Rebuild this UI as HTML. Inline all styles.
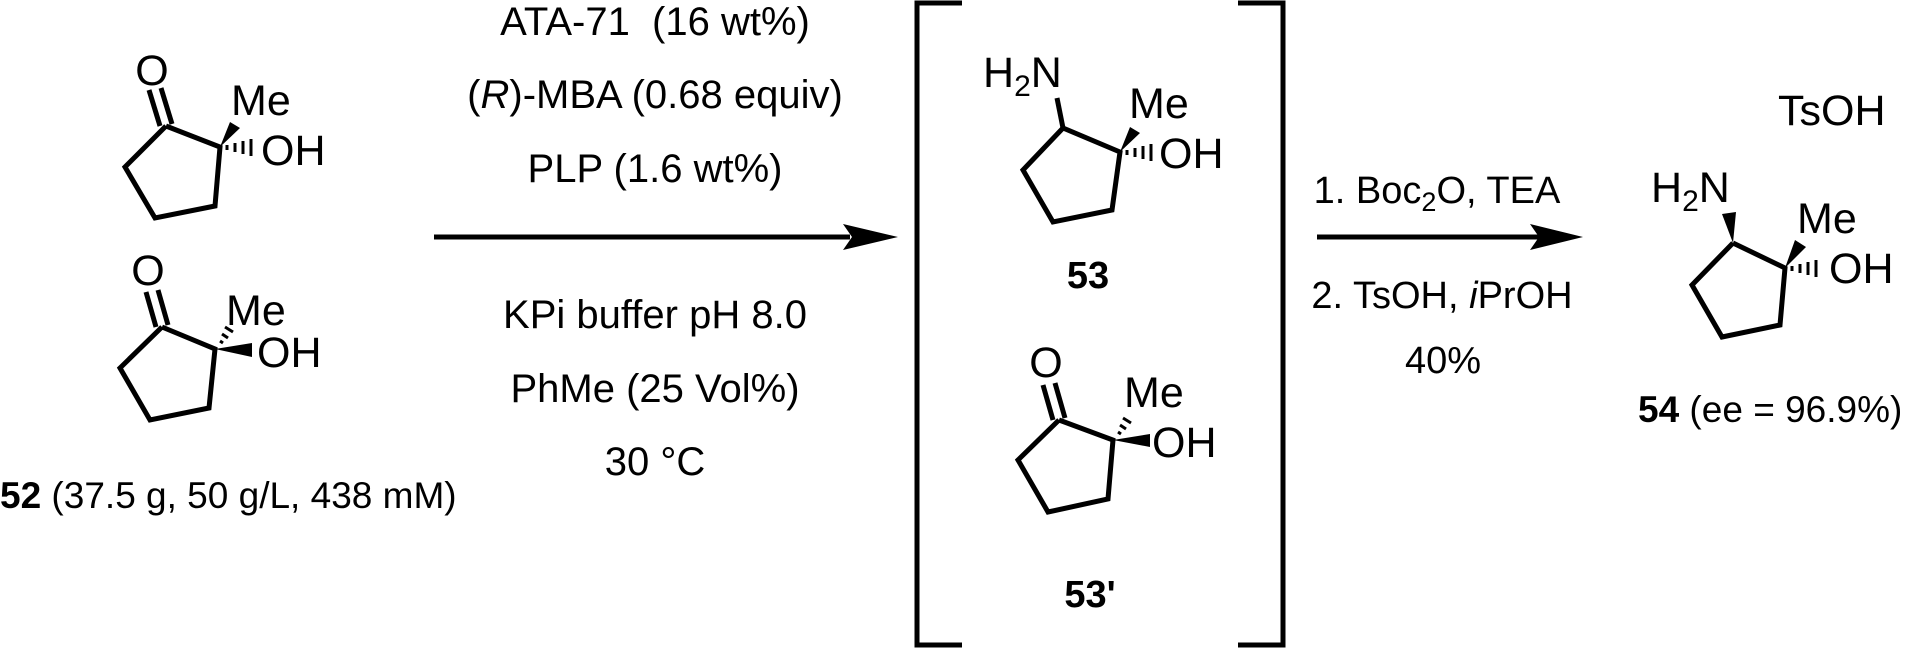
<!DOCTYPE html>
<html><head><meta charset="utf-8"><style>
html,body{margin:0;padding:0;background:#fff;}
svg{display:block;}
text{font-family:"Liberation Sans",Arial,sans-serif;fill:#000;}
</style></head><body>
<svg width="1920" height="648" viewBox="0 0 1920 648" xmlns="http://www.w3.org/2000/svg">
<g stroke="#000" stroke-width="5" fill="none" stroke-linejoin="miter" stroke-linecap="butt">
<polyline points="166,126 220,147 215,206 155,218 125,167 166,126"/>
<line x1="160" y1="126" x2="149" y2="90"/><line x1="172" y1="124" x2="161" y2="88"/>
<polyline points="162,327 215,349 209,408 150,420 120,368 162,327"/>
<line x1="156" y1="327" x2="146" y2="292"/><line x1="168" y1="325" x2="158" y2="290"/>
<polyline points="1063,128 1120,152 1112,210 1053,222 1023,170 1063,128"/>
<line x1="1063" y1="128" x2="1057" y2="98"/>
<polyline points="1059,420 1113,440 1108,499 1048,512 1018,460 1059,420"/>
<line x1="1053" y1="420" x2="1043" y2="385"/><line x1="1065" y1="418" x2="1055" y2="383"/>
<polyline points="1733,243 1785,268 1780,325 1722,337 1692,285 1733,243"/>
<line x1="434" y1="237" x2="850" y2="237"/>
<line x1="1317" y1="237" x2="1540" y2="237"/>
<polyline points="962,3 917,3 917,645 962,645"/>
<polyline points="1238,3 1283,3 1283,645 1238,645"/>
</g>
<g fill="#000">
<polygon points="843,224 898,237 843,250 852,237"/>
<polygon points="1530,224 1583,237 1530,250 1539,237"/>
<polygon points="220,147 230,122 240,128"/>
<polygon points="215,349 252,343 252,357"/>
<polygon points="1120,152 1130,127 1140,133"/>
<polygon points="1113,440 1150,434 1150,447"/>
<polygon points="1733,243 1722,214 1736,212"/>
<polygon points="1785,268 1795,240 1806,247"/>
<g stroke="#000" stroke-width="3">
<line x1="227" y1="145" x2="227" y2="150"/><line x1="235" y1="143" x2="235" y2="152"/><line x1="243" y1="141" x2="243" y2="154"/><line x1="251" y1="139" x2="251" y2="156"/>
<line x1="1127" y1="150" x2="1127" y2="155"/><line x1="1135" y1="148" x2="1135" y2="157"/><line x1="1143" y1="146" x2="1143" y2="159"/><line x1="1151" y1="144" x2="1151" y2="161"/>
<line x1="1792" y1="266" x2="1792" y2="271"/><line x1="1800" y1="264" x2="1800" y2="273"/><line x1="1808" y1="262" x2="1808" y2="275"/><line x1="1816" y1="260" x2="1816" y2="277"/>
<line x1="220" y1="341" x2="223" y2="343"/><line x1="222" y1="334" x2="228" y2="338"/><line x1="225" y1="327" x2="233" y2="332"/>
<line x1="1118" y1="432" x2="1121" y2="434"/><line x1="1120" y1="425" x2="1126" y2="429"/><line x1="1123" y1="418" x2="1131" y2="423"/>
</g>
</g>
<g font-size="43">
<text x="152" y="85" text-anchor="middle">O</text>
<text x="231" y="115">Me</text>
<text x="261" y="165">OH</text>
<text x="148" y="285" text-anchor="middle">O</text>
<text x="226" y="325">Me</text>
<text x="257" y="367">OH</text>
<text x="983" y="87">H<tspan font-size="30" dy="9">2</tspan><tspan dy="-9">N</tspan></text>
<text x="1129" y="118">Me</text>
<text x="1159" y="168">OH</text>
<text x="1046" y="377" text-anchor="middle">O</text>
<text x="1124" y="407">Me</text>
<text x="1152" y="457">OH</text>
<text x="1778" y="125">TsOH</text>
<text x="1651" y="202">H<tspan font-size="30" dy="9">2</tspan><tspan dy="-9">N</tspan></text>
<text x="1797" y="233">Me</text>
<text x="1829" y="283">OH</text>
</g>
<g font-size="40" text-anchor="middle">
<text x="655" y="35" xml:space="preserve">ATA-71  (16 wt%)</text>
<text x="655" y="108">(<tspan font-style="italic">R</tspan>)-MBA (0.68 equiv)</text>
<text x="655" y="182">PLP (1.6 wt%)</text>
<text x="655" y="328">KPi buffer pH 8.0</text>
<text x="655" y="402">PhMe (25 Vol%)</text>
<text x="655" y="475">30 °C</text>
</g>
<g font-size="38" text-anchor="middle">
<text x="1437" y="203">1. Boc<tspan font-size="27" dy="8">2</tspan><tspan dy="-8">O, TEA</tspan></text>
<text x="1442" y="308">2. TsOH, <tspan font-style="italic">i</tspan>PrOH</text>
<text x="1443" y="373">40%</text>
<text x="1088" y="288" font-weight="bold">53</text>
<text x="1090" y="607" font-weight="bold">53'</text>
</g>
<g font-size="37">
<text x="0" y="508"><tspan font-weight="bold">52</tspan> (37.5 g, 50 g/L, 438 mM)</text>
<text x="1638" y="422"><tspan font-weight="bold">54</tspan> (ee = 96.9%)</text>
</g>
</svg>
</body></html>
